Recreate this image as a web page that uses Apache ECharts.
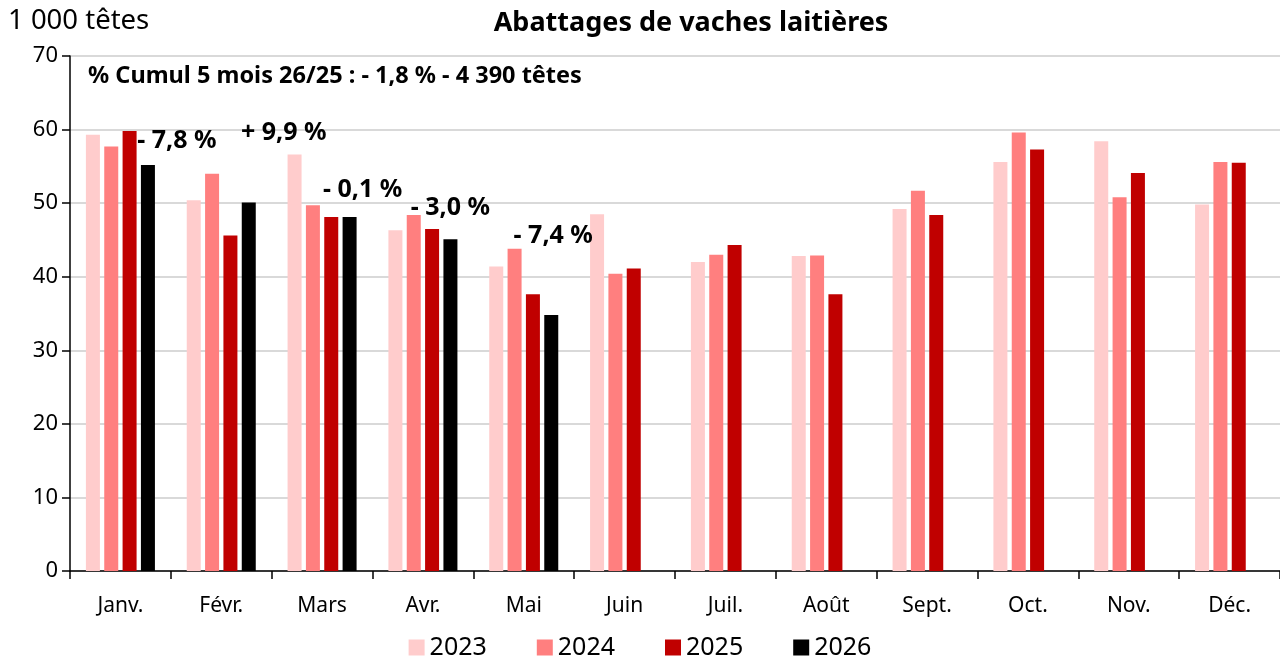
<!DOCTYPE html>
<html>
<head>
<meta charset="utf-8">
<script src="https://cdn.jsdelivr.net/npm/echarts@6/dist/echarts.min.js"></script>
<style>
  html, body { margin: 0; padding: 0; background: #fff; }
  #chart { width: 1280px; height: 657px; }
</style>
</head>
<body>
<div id="chart"></div>
<script>
const months = ['Janv.', 'Févr.', 'Mars', 'Avr.', 'Mai', 'Juin', 'Juil.', 'Août', 'Sept.', 'Oct.', 'Nov.', 'Déc.']
const years = ['2023', '2024', '2025', '2026']
const v2023 = [59.3, 50.4, 56.6, 46.3, 41.4, 48.5, 42.0, 42.8, 49.2, 55.6, 58.4, 49.8]
const v2024 = [57.7, 54.0, 49.7, 48.4, 43.8, 40.4, 43.0, 42.9, 51.7, 59.6, 50.8, 55.6]
const v2025 = [59.8, 45.6, 48.1, 46.5, 37.6, 41.1, 44.3, 37.6, 48.4, 57.3, 54.1, 55.5]
const v2026 = [55.2, 50.1, 48.1, 45.1, 34.8, null, null, null, null, null, null, null]
const varLabels = ['- 7,8 %', '+ 9,9 %', '- 0,1 %', '- 3,0 %', '- 7,4 %']
const yTicks = [0, 10, 20, 30, 40, 50, 60, 70]

const colors = ['#FFCCCC', '#FF7F7F', '#C00000', '#000000']
const font = 'Noto Sans'

// where the variation labels sit relative to the top of the 2026 bar
const labelShift = [[29, -7], [35, -52], [13, -10], [0, -14], [2, -62]]

let chart = echarts.init(document.getElementById('chart'))

let data2026 = v2026.map((v, i) => {
  if (i < varLabels.length) {
    return {
      value: v,
      label: {
        show: true,
        position: 'top',
        offset: labelShift[i],
        formatter: varLabels[i],
        color: '#000',
        fontFamily: font,
        fontWeight: 'bold',
        fontSize: 25
      }
    }
  }
  return v
})

let allValues = [v2023, v2024, v2025, data2026]

let series = years.map((y, i) => ({
  name: y,
  type: 'bar',
  data: allValues[i],
  barWidth: 14,
  barGap: '31%',
  itemStyle: { color: colors[i] },
  emphasis: { disabled: true }
}))

let option = {
  animation: false,
  title: [
    {
      text: 'Abattages de vaches laitières',
      left: 686,
      textAlign: 'center',
      top: 5,
      textStyle: { fontFamily: font, fontWeight: 'bold', fontSize: 27, color: '#000' }
    },
    {
      text: '1 000 têtes',
      left: 3,
      top: 2,
      textStyle: { fontFamily: font, fontWeight: 'normal', fontSize: 27.5, color: '#000' }
    },
    {
      text: '% Cumul 5 mois 26/25 : - 1,8 % - 4 390 têtes',
      left: 83,
      top: 59,
      textStyle: { fontFamily: font, fontWeight: 'bold', fontSize: 23.5, color: '#000' }
    }
  ],
  legend: {
    data: years,
    top: 630,
    left: 'center',
    itemWidth: 16,
    itemHeight: 16,
    itemGap: 50,
    icon: 'rect',
    textStyle: { fontFamily: font, fontSize: 25, color: '#000' }
  },
  grid: {
    left: 70,
    top: 56,
    width: 1217,
    bottom: 86
  },
  xAxis: {
    type: 'category',
    data: months,
    axisLine: { lineStyle: { color: '#000', width: 1.5 } },
    axisTick: { show: true, length: 8, lineStyle: { color: '#000', width: 1.5 } },
    axisLabel: { fontFamily: font, fontSize: 21, color: '#000', margin: 25 }
  },
  yAxis: {
    type: 'value',
    min: yTicks[0],
    max: yTicks[yTicks.length - 1],
    interval: 10,
    axisLine: { show: true, lineStyle: { color: '#000', width: 1.5 } },
    axisTick: { show: true, length: 8, lineStyle: { color: '#000', width: 1.5 } },
    axisLabel: { fontFamily: font, fontSize: 22, color: '#000', margin: 12 },
    splitLine: { lineStyle: { color: '#D9D9D9', width: 2 } }
  },
  series: series
}

chart.setOption(option)
</script>
</body>
</html>
